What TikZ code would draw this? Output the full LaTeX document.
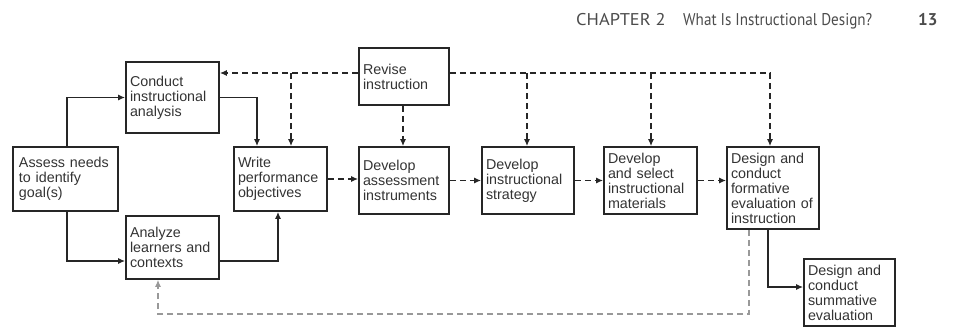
\documentclass[tikz,border=0pt]{standalone}
\usepackage{fontspec}
\setmainfont{Liberation Sans}
\newfontfamily\hdrfamily{PT Sans}
\usetikzlibrary{arrows.meta}
\tikzset{
  box/.style={draw=black!85, line width=1.6pt, inner xsep=4pt, inner ysep=0pt,
    align=left, text=black!80,
    font=\fontsize{14.3pt}{15pt}\selectfont},
  solidarr/.style={draw=black!85, line width=1.5pt, -{Latex[length=7pt,width=6pt]}},
  dasharr/.style={draw=black!85, line width=1.5pt, dash pattern=on 6pt off 4pt, -{Latex[length=7pt,width=6pt]}},
  greyarr/.style={draw=black!40, line width=1.2pt, dash pattern=on 6pt off 4pt, -{Latex[length=7pt,width=6pt]}},
  hdr/.style={anchor=base west, inner sep=0pt, text=black!70, font=\hdrfamily\fontsize{17pt}{17pt}\selectfont}
}
\begin{document}
\begin{tikzpicture}[x=1pt, y=-1pt]
\useasboundingbox (0,0) rectangle (961,327);
% header
\node[hdr] (h1) at (576,25) {\scalebox{1.08}[1]{CHAPTER 2}};
\node[hdr] (h2) at (683,25) {\scalebox{0.89}[1]{What Is Instructional Design?}};
\node[hdr, font=\hdrfamily\bfseries\fontsize{17pt}{17pt}\selectfont] (h3) at (918,25) {13};
% boxes
\node[box, minimum width=105pt, minimum height=64pt, text width=93pt] (assess) at (65.5,179) {Assess needs\\to identify\\goal(s)};
\node[box, minimum width=93pt, minimum height=71pt, text width=85pt] (conduct) at (172.5,97.5) {Conduct\\instructional\\analysis};
\node[box, minimum width=93pt, minimum height=63pt, text width=85pt] (analyze) at (172.5,247.5) {Analyze\\learners and\\contexts};
\node[box, minimum width=93pt, minimum height=64pt, text width=85pt] (write) at (280.5,179) {Write\\performance\\objectives};
\node[box, minimum width=90pt, minimum height=57pt, text width=82pt] (revise) at (404,76.5) {Revise\\instruction};
\node[box, minimum width=90pt, minimum height=67pt, text width=82pt] (assessment) at (404,180.5) {Develop\\assessment\\instruments};
\node[box, minimum width=92pt, minimum height=67pt, text width=84pt] (strategy) at (528,180.5) {Develop\\instructional\\strategy};
\node[box, minimum width=93pt, minimum height=67pt, text width=85pt] (materials) at (650.5,180.5) {Develop\\and select\\instructional\\materials};
\node[box, minimum width=92pt, minimum height=82pt, text width=84pt] (formative) at (773,188) {Design and\\conduct\\formative\\evaluation of\\instruction};
\node[box, minimum width=91pt, minimum height=67pt, text width=83pt] (summative) at (849.5,292.5) {Design and\\conduct\\summative\\evaluation};
% solid connectors
\draw[solidarr] ([xshift=1.5pt]assess.north) |- (conduct.west);
\draw[solidarr] ([xshift=1.5pt]assess.south) |- ([yshift=-13.5pt]analyze.west);
\draw[solidarr] (conduct.east) -| ([xshift=-23.5pt]write.north);
\draw[solidarr] ([yshift=-13.5pt]analyze.east) -| ([xshift=-2.5pt]write.south);
\draw[solidarr] ([xshift=-5pt]formative.south) |- ([yshift=5.5pt]summative.west);
% dashed main flow
\draw[dasharr] (write.east) -- (write.east -| assessment.west);
\draw[dasharr] (assessment.east) -- (strategy.west);
\draw[dasharr] (strategy.east) -- (materials.west);
\draw[dasharr] (materials.east) -- (materials.east -| formative.west);
\draw[dasharr] ([xshift=-1pt]revise.south) -- ([xshift=-1pt]assessment.north);
% revision feedback lines
\coordinate (jw) at (291,73);
\coordinate (js) at (527,73);
\coordinate (jm) at (651,73);
\draw[dasharr] ([yshift=3.5pt]revise.west) -- (conduct.east |- jw);
\draw[dasharr] (jw) -- (jw |- write.north);
\draw[dasharr] ([yshift=3.5pt]revise.east) -| ([xshift=-3pt]formative.north);
\draw[dasharr] (js) -- (js |- strategy.north);
\draw[dasharr] (jm) -- (jm |- materials.north);
% bottom feedback
\coordinate (bb) at (749,314);
\draw[greyarr] ([xshift=-24pt]formative.south) -- (bb) -| ([xshift=-14.5pt]analyze.south);
\end{tikzpicture}
\end{document}
